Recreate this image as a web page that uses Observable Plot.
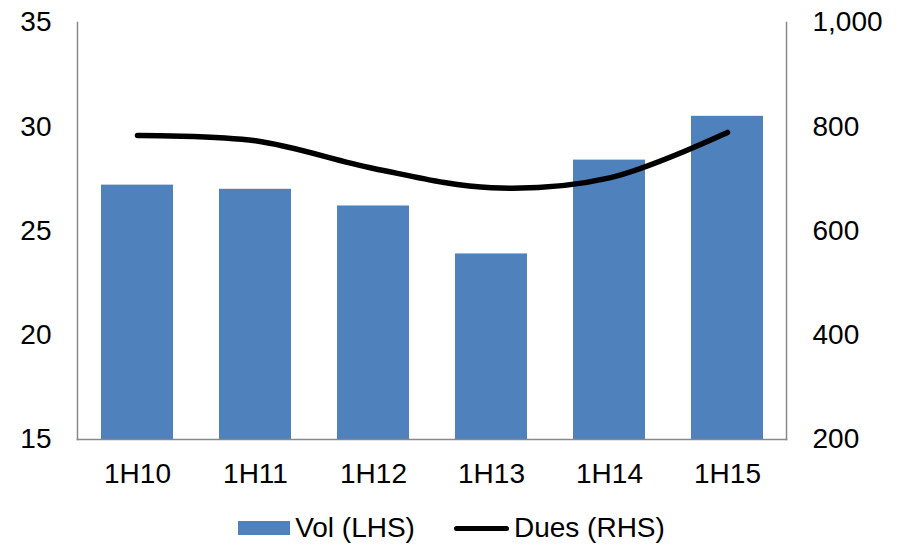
<!DOCTYPE html>
<html>
<head>
<meta charset="utf-8">
<script src="https://cdn.jsdelivr.net/npm/d3@7"></script>
<script src="https://cdn.jsdelivr.net/npm/@observablehq/plot@0.6"></script>
<style>
  html, body { margin: 0; padding: 0; background: #fff; }
  body { width: 903px; height: 546px; overflow: hidden; font-family: "Liberation Sans", Arial, sans-serif; }
  #legend { height: 41px; box-sizing: border-box; padding-top: 5px; display: flex; justify-content: center; align-items: center; font-size: 28px; color: #000; }
  .sw-bar { width: 52px; height: 14px; background: #4F81BD; margin-right: 5px; }
  .sw-line { width: 55px; height: 5px; background: #000; border-radius: 3px; margin-left: 39px; margin-right: 5px; }
</style>
</head>
<body>
<div id="chart"></div>
<div id="legend">
  <div class="sw-bar"></div><span>Vol (LHS)</span>
  <div class="sw-line"></div><span>Dues (RHS)</span>
</div>
<script>
const categories = ["1H10", "1H11", "1H12", "1H13", "1H14", "1H15"];
const volLHS = [27.2, 27.0, 26.2, 23.9, 28.4, 30.5];
const duesRHS = [783, 773, 720, 683, 702, 789];
const leftTicks = [15, 20, 25, 30, 35];
const rightTicks = [200, 400, 600, 800, 1000];

const leftDomain = [15, 35];
const rightDomain = [200, 1000];
const toLeft = v => leftDomain[0] + (v - rightDomain[0]) / (rightDomain[1] - rightDomain[0]) * (leftDomain[1] - leftDomain[0]);
const toRight = v => rightDomain[0] + (v - leftDomain[0]) / (leftDomain[1] - leftDomain[0]) * (rightDomain[1] - rightDomain[0]);

const data = categories.map((c, i) => ({cat: c, vol: volLHS[i], dues: duesRHS[i]}));

const axisColor = "#898989";
const chart = Plot.plot({
  width: 903,
  height: 505,
  marginLeft: 77,
  marginRight: 117,
  marginTop: 22,
  marginBottom: 66,
  style: {fontFamily: "'Liberation Sans', Arial, sans-serif", fontSize: "28px", color: "#000", background: "#fff"},
  x: {type: "band", domain: categories, paddingInner: 0.39, paddingOuter: 0.195},
  y: {domain: leftDomain},
  marks: [
    Plot.barY(data, {x: "cat", y1: leftDomain[0], y2: "vol", fill: "#4F81BD"}),
    Plot.frame({anchor: "left", stroke: axisColor, strokeWidth: 1.5}),
    Plot.frame({anchor: "right", stroke: axisColor, strokeWidth: 1.5}),
    Plot.frame({anchor: "bottom", stroke: axisColor, strokeWidth: 1.5}),
    Plot.line(data, {x: "cat", y: d => toLeft(d.dues), stroke: "#000", strokeWidth: 5.5, curve: "catmull-rom", strokeLinecap: "round", strokeLinejoin: "round"}),
    Plot.axisY({anchor: "left", ticks: leftTicks, tickSize: 0, tickPadding: 26, fontSize: 28, label: null}),
    Plot.axisY({anchor: "right", ticks: rightTicks.map(toLeft), tickFormat: v => d3.format(",")(Math.round(toRight(v))), tickSize: 0, tickPadding: 26, fontSize: 28, label: null}),
    Plot.axisX({anchor: "bottom", tickSize: 0, tickPadding: 24, fontSize: 28, label: null})
  ]
});
document.getElementById("chart").appendChild(chart);
</script>
</body>
</html>
